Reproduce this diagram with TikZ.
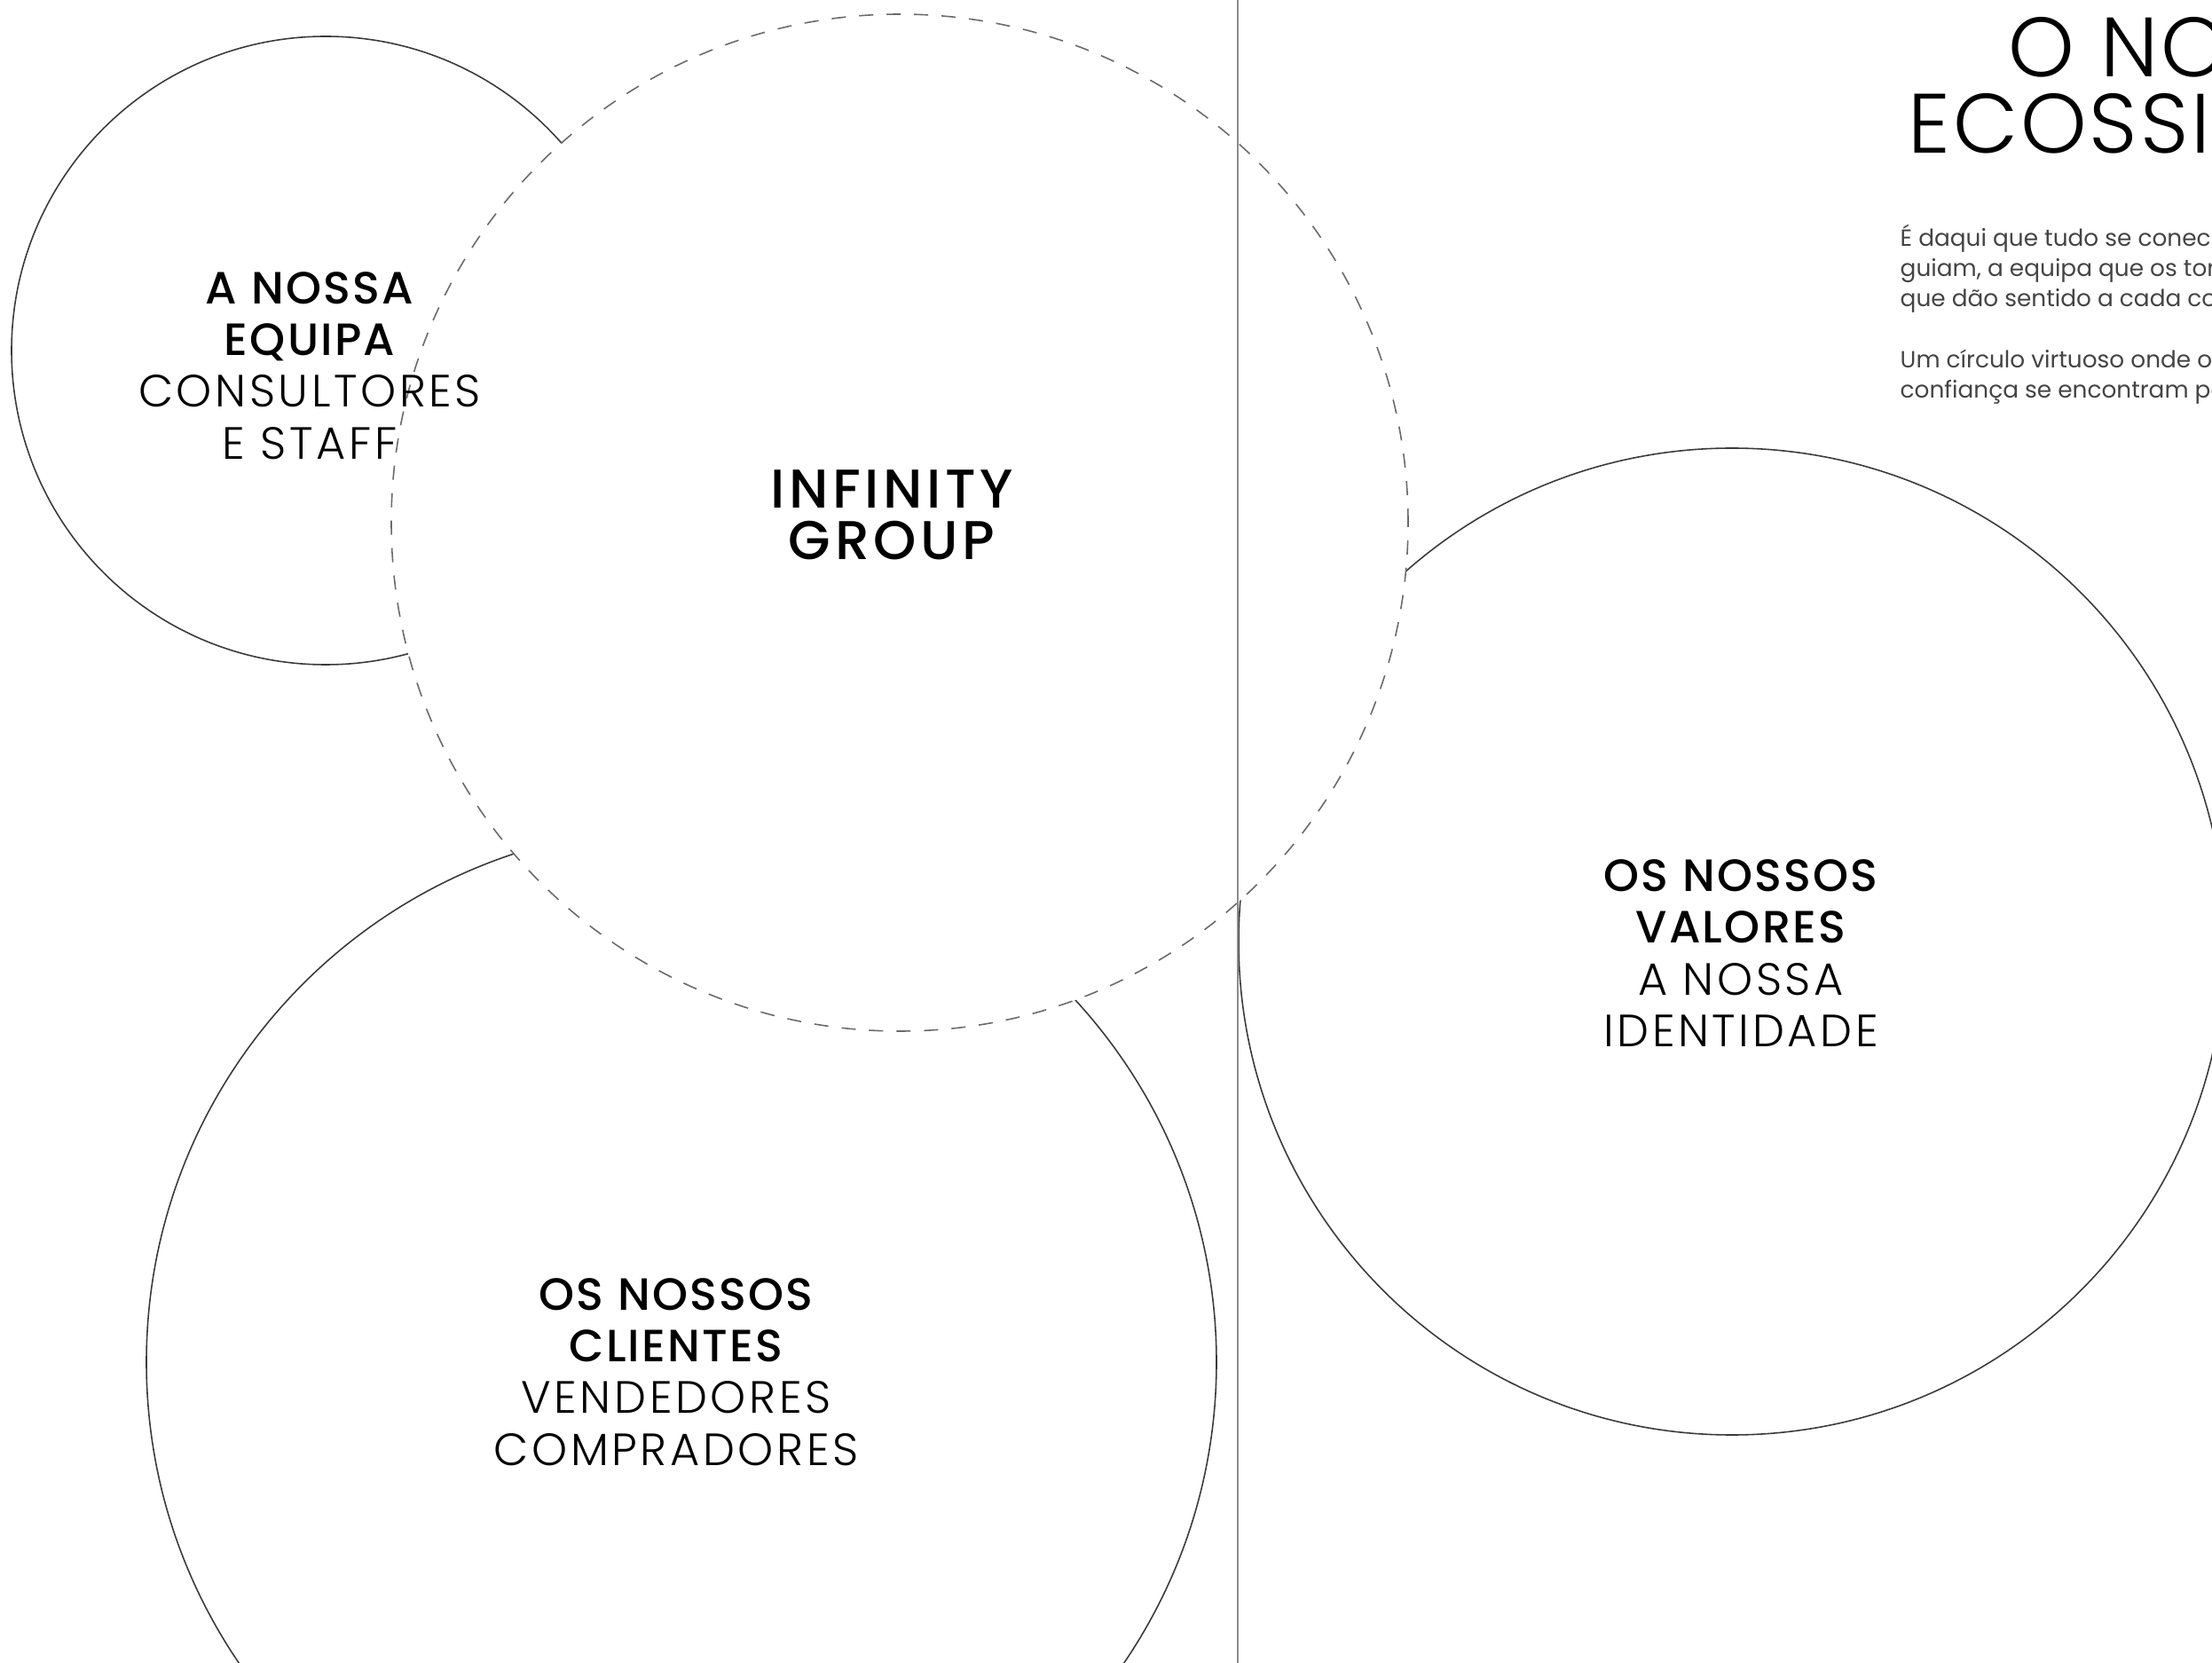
\documentclass[tikz,border=0pt]{standalone}
\usepackage{fontspec}
\setmainfont{Poppins}
\newfontfamily\thinfont{Poppins Light}[LetterSpace=7]
\newfontfamily\heavyfont{Poppins Medium}[LetterSpace=4.5]
\newfontfamily\titlefont{Poppins Light}[LetterSpace=3]
\newfontfamily\corefont{Poppins Medium}[LetterSpace=7.5]
\definecolor{ringgray}{HTML}{3A3A3A}
\definecolor{dashgray}{HTML}{6A6A6A}
\definecolor{foldgray}{HTML}{8C8C8C}
\definecolor{textgray}{HTML}{444444}
\begin{document}
\begin{tikzpicture}
    [ring/.style={circle, draw=ringgray, line width=0.45pt,
      inner sep=0pt},
     core/.style={ring, draw=dashgray, fill=white,
      dash pattern=on 0.16cm off 0.15cm},
     tag/.style={align=center, inner sep=0pt,
      font=\thinfont\fontsize{14.5}{16.6}\selectfont},
     para/.style={anchor=base west, inner sep=0pt, text=textgray,
      font=\fontsize{7.5}{9.6}\selectfont}]
    \def \W {24.93}
    \def \H {18.74}
    \useasboundingbox (0,0) rectangle (\W,-\H);
    \clip (0,0) rectangle (\W,-\H);

    % the three outer circles
    \node[ring, minimum size=7.08cm] (equipa) at (3.67,-3.95) {};
    \node[ring, minimum size=12.06cm] (clientes) at (7.68,-15.35) {};
    \node[ring, minimum size=11.12cm] (valores) at (19.52,-10.61) {};
    % dashed core on top, hides the overlaps
    \node[core, minimum size=11.46cm] (group) at (10.14,-5.89) {};

    % page fold
    \coordinate (foldtop) at (13.95,0);
    \coordinate (foldbot) at (13.95,-\H);
    \draw[foldgray, line width=0.5pt] (foldtop) -- (foldbot);

    % labels
    \node[tag] (equipatag) at (3.49,-4.12)
      {{\heavyfont A NOSSA}\\{\heavyfont EQUIPA}\\CONSULTORES\\E STAFF};
    \node[tag, font=\corefont\fontsize{17.5}{16.5}\selectfont] (grouptag)
      at (10.05,-5.80) {INFINITY\\GROUP};
    \node[tag] (clientestag) at (7.62,-15.46)
      {{\heavyfont OS NOSSOS}\\{\heavyfont CLIENTES}\\VENDEDORES\\COMPRADORES};
    \node[tag] (valorestag) at (19.62,-10.74)
      {{\heavyfont OS NOSSOS}\\{\heavyfont VALORES}\\A NOSSA\\IDENTIDADE};

    % title, runs off the page
    \node[anchor=base west, inner sep=0pt,
      font=\titlefont\fontsize{27}{24}\selectfont] (titletop)
      at (22.63,-0.87) {O NO};
    \node[anchor=base west, inner sep=0pt,
      font=\titlefont\fontsize{27}{24}\selectfont] (titlebot)
      at (21.50,-1.73) {ECOSSI};

    \foreach \yy/\txt [count=\i] in {2.78/{É daqui que tudo se conec},
      3.12/{guiam, a equipa que os tor}, 3.46/{que dão sentido a cada co},
      4.15/{Um círculo virtuoso onde o}, 4.49/{confiança se encontram pa}}
    {
      \node[para] (para\i) at (21.41,-\yy) {\txt};
    }
  \end{tikzpicture}
\end{document}
